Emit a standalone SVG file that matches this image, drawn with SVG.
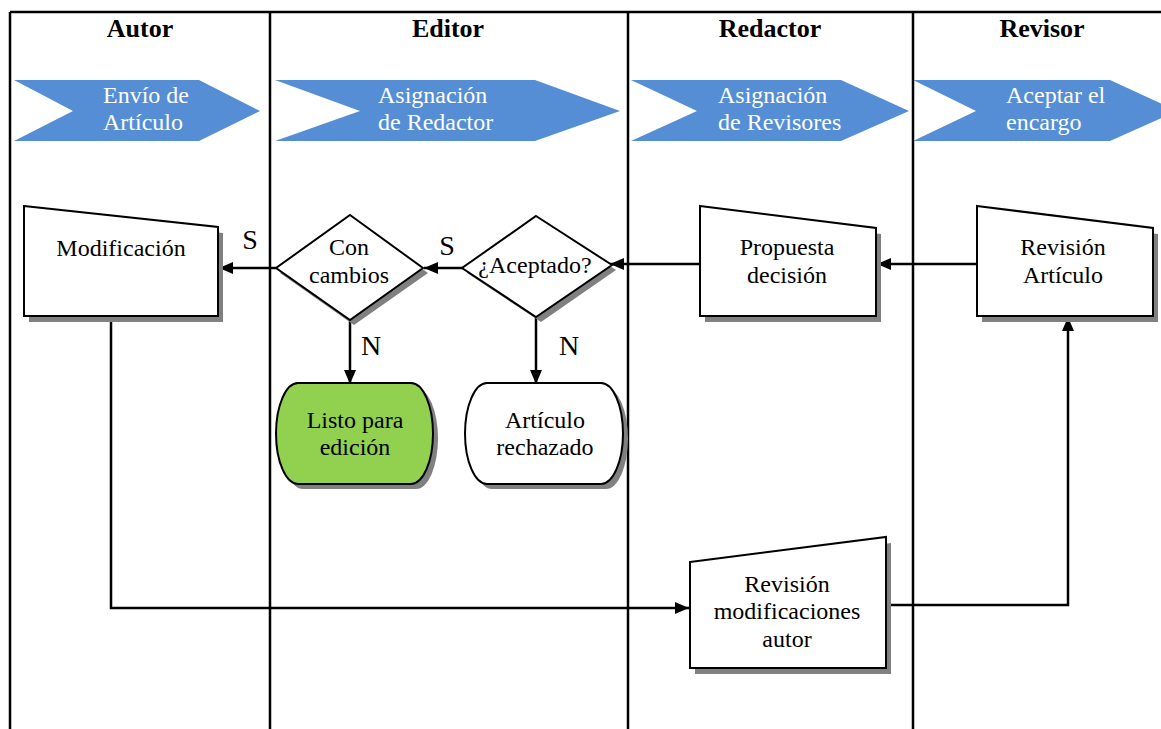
<svg xmlns="http://www.w3.org/2000/svg" width="1161" height="729" viewBox="0 0 1161 729">
<defs>
<style>
.hdr{font-family:"Liberation Serif","Times New Roman",serif;font-size:26px;font-weight:bold;fill:#000;text-anchor:middle}
.chev{fill:#558ED5}
.ct{font-family:"Liberation Serif","Times New Roman",serif;font-size:24px;fill:#fff}
.t{font-family:"Liberation Serif","Times New Roman",serif;font-size:24px;fill:#000;text-anchor:middle}
.lbl{font-family:"Liberation Serif","Times New Roman",serif;font-size:28px;fill:#000;text-anchor:middle}
.shape{fill:#fff;stroke:#000;stroke-width:2}
.shadow{fill:#808080}
.lane{stroke:#000;stroke-width:2.5;fill:none}
.conn{stroke:#000;stroke-width:2.5;fill:none}
</style>
<marker id="arr" viewBox="0 0 14 12" refX="14" refY="6" markerWidth="14" markerHeight="12" markerUnits="userSpaceOnUse" orient="auto">
<path d="M0,0 L14,6 L0,12 Z" fill="#000"/>
</marker>
</defs>
<rect width="1161" height="729" fill="#fff"/>

<g id="chevrons">
<g id="chev-autor">
<polygon class="chev" points="14,80 199,80 260,111 199,141 14,141 73,111"/>
<text class="ct" x="103" y="103">Envío de</text>
<text class="ct" x="103" y="130">Artículo</text>
</g>
<g id="chev-editor">
<polygon class="chev" points="275,80 535,80 620,111 535,141 275,141 360,111"/>
<text class="ct" x="378" y="103">Asignación</text>
<text class="ct" x="378" y="130">de Redactor</text>
</g>
<g id="chev-redactor">
<polygon class="chev" points="631,80 841,80 909,111 841,141 631,141 697,111"/>
<text class="ct" x="718" y="103">Asignación</text>
<text class="ct" x="718" y="130">de Revisores</text>
</g>
<g id="chev-revisor">
<polygon class="chev" points="913,80 1110,80 1177,111 1110,141 913,141 976,111"/>
<text class="ct" x="1006" y="103">Aceptar el</text>
<text class="ct" x="1006" y="130">encargo</text>
</g>
</g>

<g id="lanes">
<path class="lane" d="M10,12 H1161 M10,12 V729 M270,12 V729 M628,12 V729 M913,12 V729"/>
<text class="hdr" x="140" y="37">Autor</text>
<text class="hdr" x="448" y="37">Editor</text>
<text class="hdr" x="770" y="37">Redactor</text>
<text class="hdr" x="1042" y="37">Revisor</text>
</g>

<g id="connectors">
<path class="conn" d="M276,268 H219" marker-end="url(#arr)"/>
<path class="conn" d="M463,268 H424" marker-end="url(#arr)"/>
<path class="conn" d="M700,264 H610" marker-end="url(#arr)"/>
<path class="conn" d="M977,264 H877" marker-end="url(#arr)"/>
<path class="conn" d="M111,316 V608 H689" marker-end="url(#arr)"/>
<path class="conn" d="M886,605 H1068 V317" marker-end="url(#arr)"/>
<path class="conn" d="M350,320 V384" marker-end="url(#arr)"/>
<path class="conn" d="M536,317 V384" marker-end="url(#arr)"/>
<text class="lbl" x="250" y="249">S</text>
<text class="lbl" x="447" y="255">S</text>
<text class="lbl" x="371" y="355">N</text>
<text class="lbl" x="569" y="355">N</text>
</g>

<g id="modificacion">
<polygon class="shadow" points="29,212 223,233 223,322 29,322"/>
<polygon class="shape" points="24,206 218,227 218,316 24,316"/>
<text class="t" x="121" y="256">Modificación</text>
</g>

<g id="con-cambios">
<polygon class="shadow" points="354,220 428,273 354,325 280,273"/>
<polygon class="shape" points="350,215 423,268 350,320 276,268"/>
<text class="t" x="349" y="255">Con</text>
<text class="t" x="349" y="283">cambios</text>
</g>

<g id="aceptado">
<polygon class="shadow" points="541,221 616,270 541,322 467,273"/>
<polygon class="shape" points="536,216 612,265 536,317 462,268"/>
<text class="t" x="535" y="273">¿Aceptado?</text>
</g>

<g id="propuesta">
<polygon class="shadow" points="705,212 881,234 881,322 705,322"/>
<polygon class="shape" points="700,206 876,228 876,316 700,316"/>
<text class="t" x="787" y="255">Propuesta</text>
<text class="t" x="787" y="283">decisión</text>
</g>

<g id="revision-articulo">
<polygon class="shadow" points="982,212 1158,234 1158,322 982,322"/>
<polygon class="shape" points="977,206 1153,228 1153,316 977,316"/>
<text class="t" x="1063" y="255">Revisión</text>
<text class="t" x="1063" y="283">Artículo</text>
</g>

<g id="listo">
<path class="shadow" d="M303,388 H416 A22,50.5 0 0 1 416,489 H303 A22,50.5 0 0 1 303,388 Z"/>
<path d="M298,383 H411 A22,50.5 0 0 1 411,484 H298 A22,50.5 0 0 1 298,383 Z" fill="#92D050" stroke="#000" stroke-width="2"/>
<text class="t" x="355" y="428">Listo para</text>
<text class="t" x="355" y="455">edición</text>
</g>

<g id="rechazado">
<path class="shadow" d="M492,388 H606 A22,50.5 0 0 1 606,489 H492 A22,50.5 0 0 1 492,388 Z"/>
<path class="shape" d="M487,383 H601 A22,50.5 0 0 1 601,484 H487 A22,50.5 0 0 1 487,383 Z"/>
<text class="t" x="545" y="428">Artículo</text>
<text class="t" x="545" y="455">rechazado</text>
</g>

<g id="revision-modificaciones">
<polygon class="shadow" points="695,568 891,543 891,674 695,674"/>
<polygon class="shape" points="690,562 886,537 886,668 690,668"/>
<text class="t" x="787" y="592">Revisión</text>
<text class="t" x="787" y="619">modificaciones</text>
<text class="t" x="787" y="647">autor</text>
</g>
</svg>
